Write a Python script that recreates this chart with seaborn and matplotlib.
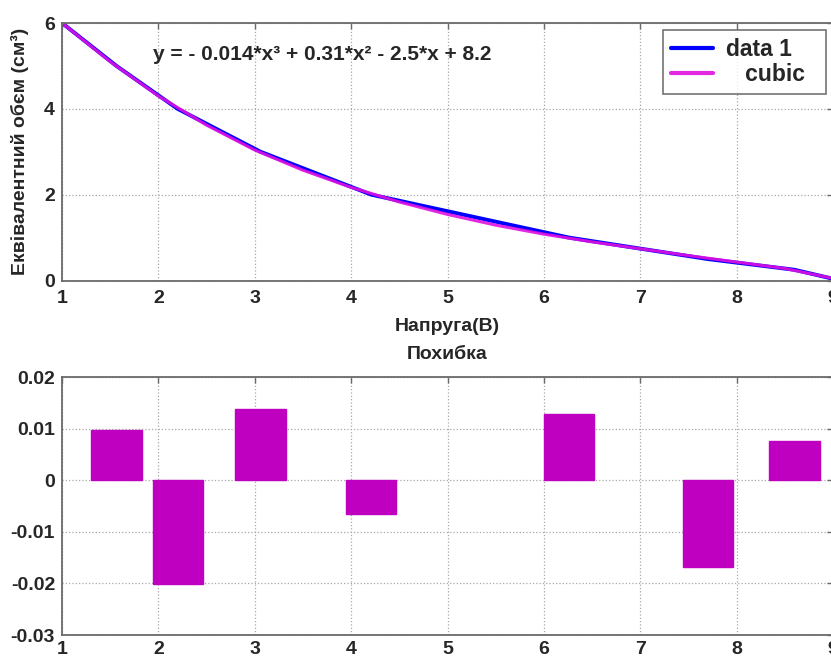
import matplotlib
matplotlib.use("Agg")
import matplotlib.pyplot as plt
import seaborn as sns
import pandas as pd

# ================= DATA =================
voltage = [1.0, 1.565, 2.2, 3.06, 4.21, 6.26, 7.7, 8.6, 9.0]
volume = [6.0, 5.0, 4.0, 3.0, 2.0, 1.0, 0.5, 0.25, 0.04]

fit_x = [1.0, 1.5, 2.0, 2.5, 3.0, 3.5, 4.0, 4.5, 5.0,
         5.5, 6.0, 6.5, 7.0, 7.5, 8.0, 8.5, 9.0]
fit_y = [6.00, 5.10, 4.30, 3.62, 3.04, 2.57, 2.17, 1.83, 1.54,
         1.29, 1.08, 0.90, 0.74, 0.58, 0.43, 0.28, 0.05]

resid_x = [1.565, 2.2, 3.06, 4.21, 6.26, 7.7, 8.6]
resid_y = [0.0098, -0.0202, 0.0138, -0.0066, 0.0128, -0.0169, 0.0076]

x_ticks = [1, 2, 3, 4, 5, 6, 7, 8, 9]
top_yticks = [0, 2, 4, 6]
bot_yticks = [-0.03, -0.02, -0.01, 0, 0.01, 0.02]
bot_yticklabels = ["-0.03", "-0.02", "-0.01", "0", "0.01", "0.02"]

equation = "y = - 0.014*x³ + 0.31*x² - 2.5*x + 8.2"

# ================= STYLE =================
sns.set_style("white")
plt.rcParams["font.family"] = ["Liberation Sans", "DejaVu Sans"]
plt.rcParams["font.weight"] = "bold"

BLUE = "#0000ff"
MAGENTA = "#e010e0"
BAR = "#c000c0"
SPINE = "#6a6a6a"
TICK_FS = 14

W, H = 831, 660
fig = plt.figure(figsize=(W / 100, H / 100), dpi=100)
ax1 = fig.add_axes([62 / W, 1 - 280.5 / H, 771 / W, 257.5 / H])
ax2 = fig.add_axes([62 / W, 1 - 635 / H, 771 / W, 258 / H])


def matlab_look(ax, xpad=7):
    for s in ax.spines.values():
        s.set_color(SPINE)
        s.set_linewidth(1.3)
    ax.grid(True, linestyle=":", color="#a8a8a8", linewidth=0.9)
    ax.set_axisbelow(True)
    ax.tick_params(direction="in", length=4, width=1, color=SPINE,
                   top=True, right=True, labelsize=TICK_FS)
    ax.tick_params(axis="x", pad=xpad)
    ax.tick_params(axis="y", pad=5)
    for lab in ax.get_xticklabels() + ax.get_yticklabels():
        lab.set_fontweight("bold")


# ================= TOP: data + cubic fit =================
df_data = pd.DataFrame({"x": voltage, "y": volume})
df_fit = pd.DataFrame({"x": fit_x, "y": fit_y})

sns.lineplot(data=df_data, x="x", y="y", ax=ax1, color=BLUE, linewidth=2.8,
             label="data 1  ")
sns.lineplot(data=df_fit, x="x", y="y", ax=ax1, color=MAGENTA, linewidth=2.2,
             label="   cubic  ", alpha=0.9)

ax1.set_xlim(1, 9)
ax1.set_ylim(0, 6)
ax1.set_xticks(x_ticks)
ax1.set_yticks(top_yticks)
ax1.set_xlabel("Напруга(В)", fontsize=14, fontweight="bold", labelpad=8)
ax1.set_ylabel("Еквівалентний обєм (см³)", fontsize=14, fontweight="bold",
               labelpad=11)
ax1.text(0.118, 0.878, equation, transform=ax1.transAxes, fontsize=15,
         fontweight="bold", va="center", ha="left")

leg = ax1.legend(loc="upper right", fontsize=16.5, frameon=True, fancybox=False,
                 handlelength=1.8, borderaxespad=0.3, borderpad=0.35,
                 labelspacing=0.1, handletextpad=0.6)
leg.get_frame().set_edgecolor("#505050")
leg.get_frame().set_linewidth(1.2)
for t in leg.get_texts():
    t.set_fontweight("bold")
for ln in leg.get_lines():
    ln.set_linewidth(3)
matlab_look(ax1)

# ================= BOTTOM: residuals =================
df_res = pd.DataFrame({"x": resid_x, "r": resid_y})
sns.barplot(data=df_res, x="x", y="r", ax=ax2, native_scale=True,
            color=BAR, saturation=1, width=0.82, errorbar=None,
            edgecolor=BAR)
ax2.set_xlim(1, 9)
ax2.set_ylim(-0.03, 0.02)
ax2.set_xticks(x_ticks)
ax2.set_xticklabels([str(v) for v in x_ticks])
ax2.set_yticks(bot_yticks)
ax2.set_yticklabels(bot_yticklabels)
ax2.set_xlabel("")
ax2.set_ylabel("")
ax2.set_title("Похибка", fontsize=14, fontweight="bold", pad=13)
matlab_look(ax2, xpad=4)

fig.savefig("out.png", dpi=100)
